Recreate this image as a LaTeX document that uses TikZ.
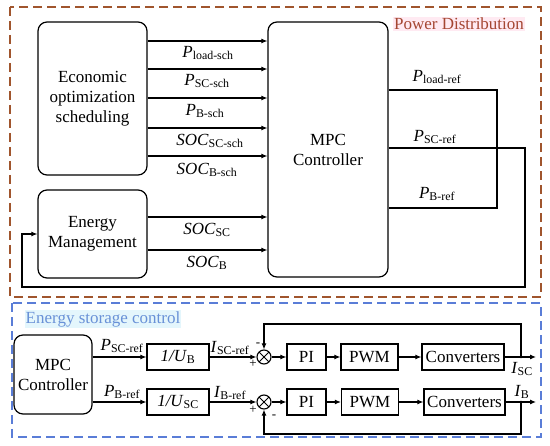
\documentclass[tikz,border=0pt]{standalone}
\usepackage{fontspec}
\setmainfont{Liberation Serif}
\usetikzlibrary{arrows.meta}
\definecolor{pdcol}{RGB}{160,85,45}
\definecolor{pdtext}{RGB}{165,70,50}
\definecolor{pdbg}{RGB}{255,234,242}
\definecolor{escol}{RGB}{90,125,215}
\definecolor{estext}{RGB}{105,145,215}
\definecolor{esbg}{RGB}{228,246,252}
\newcommand\vsub[2]{\textit{#1}\textsubscript{#2}}
\begin{document}
\begin{tikzpicture}[x=1pt,y=-1pt, font=\fontsize{17}{20}\selectfont,
  rbox/.style={draw, line width=1.2pt, rounded corners=9pt, align=center, inner sep=0pt},
  sbox/.style={draw, line width=1.2pt, inner sep=0pt, minimum height=26pt},
  arr/.style={line width=1.1pt, -{Latex[length=6pt,width=5pt]}},
  ln/.style={line width=1.1pt},
  lbl/.style={inner sep=0pt},
  sgn/.style={inner sep=0pt, font=\fontsize{13}{13}\selectfont},
  sumj/.style={draw, circle, line width=1.1pt, minimum size=14pt, inner sep=0pt,
    path picture={\draw[line width=1pt] (path picture bounding box.north west) -- (path picture bounding box.south east)
      (path picture bounding box.north east) -- (path picture bounding box.south west);}}
]
\useasboundingbox (0,0) rectangle (550,446);

% frames
\draw[pdcol, line width=1.3pt, dash pattern=on 9pt off 5pt] (10,7) rectangle (541,297);
\draw[escol, line width=1.3pt, dash pattern=on 9pt off 5pt] (12,303) rectangle (541,437);
\node[lbl, fill=pdbg, text=pdtext, inner sep=1pt] (pdl) at (459,24) {Power Distribution};
\node[lbl, fill=esbg, text=estext, inner sep=1pt] (esl) at (103,319) {Energy storage control};

% top section
\node[rbox, minimum width=109pt, minimum height=153pt] (econ) at (92.5,98.5) {Economic\\optimization\\scheduling};
\node[rbox, minimum width=109pt, minimum height=88pt] (em) at (92.5,234) {Energy\\Management};
\node[rbox, minimum width=120pt, minimum height=255pt] (mpc) at (328,149.5) {MPC\\Controller};

\foreach \yy/\nm in {41/a1,69/a2,98/a3,128/a4,156/a5,217/a6,250/a7}{
  \coordinate (\nm) at (0,\yy);
}
\foreach \nm in {a1,a2,a3,a4,a5}{
  \draw[arr] (econ.east |- \nm) -- (mpc.west |- \nm);
}
\foreach \nm in {a6,a7}{
  \draw[arr] (em.east |- \nm) -- (mpc.west |- \nm);
}
\node[lbl] (l1) at (208,53) {\vsub{P}{load-sch}};
\node[lbl] (l2) at (207,81) {\vsub{P}{SC-sch}};
\node[lbl] (l3) at (205,111) {\vsub{P}{B-sch}};
\node[lbl] (l4) at (210,141) {\vsub{SOC}{SC-sch}};
\node[lbl] (l5) at (207,170) {\vsub{SOC}{B-sch}};
\node[lbl] (l6) at (207,230) {\vsub{SOC}{SC}};
\node[lbl] (l7) at (207,263) {\vsub{SOC}{B}};

\coordinate (ra) at (497,90);
\coordinate (rb) at (497,208);
\draw[ln] (mpc.east |- ra) -- (ra) -- (rb) -- (mpc.east |- rb);
\coordinate (rc) at (525,148);
\coordinate (rd) at (525,287);
\coordinate (re) at (22,287);
\draw[arr] (mpc.east |- rc) -- (rc) -- (rd) -- (re) |- (em.west);
\node[lbl] (r1) at (437,77) {\vsub{P}{load-ref}};
\node[lbl] (r2) at (435,137) {\vsub{P}{SC-ref}};
\node[lbl] (r3) at (437,194) {\vsub{P}{B-ref}};

% bottom section
\node[rbox, minimum width=78pt, minimum height=79pt] (mpc2) at (53,374.5) {MPC\\Controller};
\node[sbox, minimum width=62pt] (ub) at (178,357) {\textit{1/U}\textsubscript{B}};
\node[sbox, minimum width=62pt] (usc) at (178,402) {\textit{1/U}\textsubscript{SC}};
\node[sumj] (s1) at (264,357) {};
\node[sumj] (s2) at (264,402) {};
\node[sbox, minimum width=39pt] (pi1) at (306.5,357) {PI};
\node[sbox, minimum width=39pt] (pi2) at (306.5,402) {PI};
\node[sbox, minimum width=57pt] (pwm1) at (369.5,357) {PWM};
\node[sbox, minimum width=57pt] (pwm2) at (370,402) {PWM};
\node[sbox, minimum width=82pt] (cv1) at (463,357) {Converters};
\node[sbox, minimum width=81pt] (cv2) at (464.5,402) {Converters};

\draw[arr] (mpc2.east |- ub.west) -- (ub.west);
\draw[arr] (mpc2.east |- usc.west) -- (usc.west);
\draw[arr] (ub.east) -- (s1.west);
\draw[arr] (usc.east) -- (s2.west);
\draw[arr] (s1.east) -- (pi1.west);
\draw[arr] (s2.east) -- (pi2.west);
\draw[arr] (pi1.east) -- (pwm1.west);
\draw[arr] (pi2.east) -- (pwm2.west);
\draw[arr] (pwm1.east) -- (cv1.west);
\draw[arr] (pwm2.east) -- (cv2.west);

\coordinate (j1) at (521,357);
\coordinate (o1) at (536,357);
\coordinate (f1) at (264,324);
\draw[arr] (cv1.east) -- (o1);
\draw[arr] (j1) |- (f1) -- (s1.north);
\fill (j1) circle (1.4pt);
\coordinate (j2) at (521,402);
\coordinate (o2) at (536,402);
\coordinate (f2) at (264,434);
\draw[arr] (cv2.east) -- (o2);
\draw[arr] (j2) |- (f2) -- (s2.south);
\fill (j2) circle (1.4pt);

\node[lbl] (p1) at (122,346) {\vsub{P}{SC-ref}};
\node[lbl] (p2) at (122,392) {\vsub{P}{B-ref}};
\node[lbl] (i1) at (230,348) {\vsub{I}{SC-ref}};
\node[lbl] (i2) at (230,393) {\vsub{I}{B-ref}};
\node[lbl] (o1l) at (522,369) {\vsub{I}{SC}};
\node[lbl] (o2l) at (522,392) {\vsub{I}{B}};
\node[sgn] (m1) at (258,345) {-};
\node[sgn] (pl1) at (253,364) {+};
\node[sgn] (pl2) at (253,410) {+};
\node[sgn] (m2) at (274,417) {-};
\end{tikzpicture}
\end{document}
